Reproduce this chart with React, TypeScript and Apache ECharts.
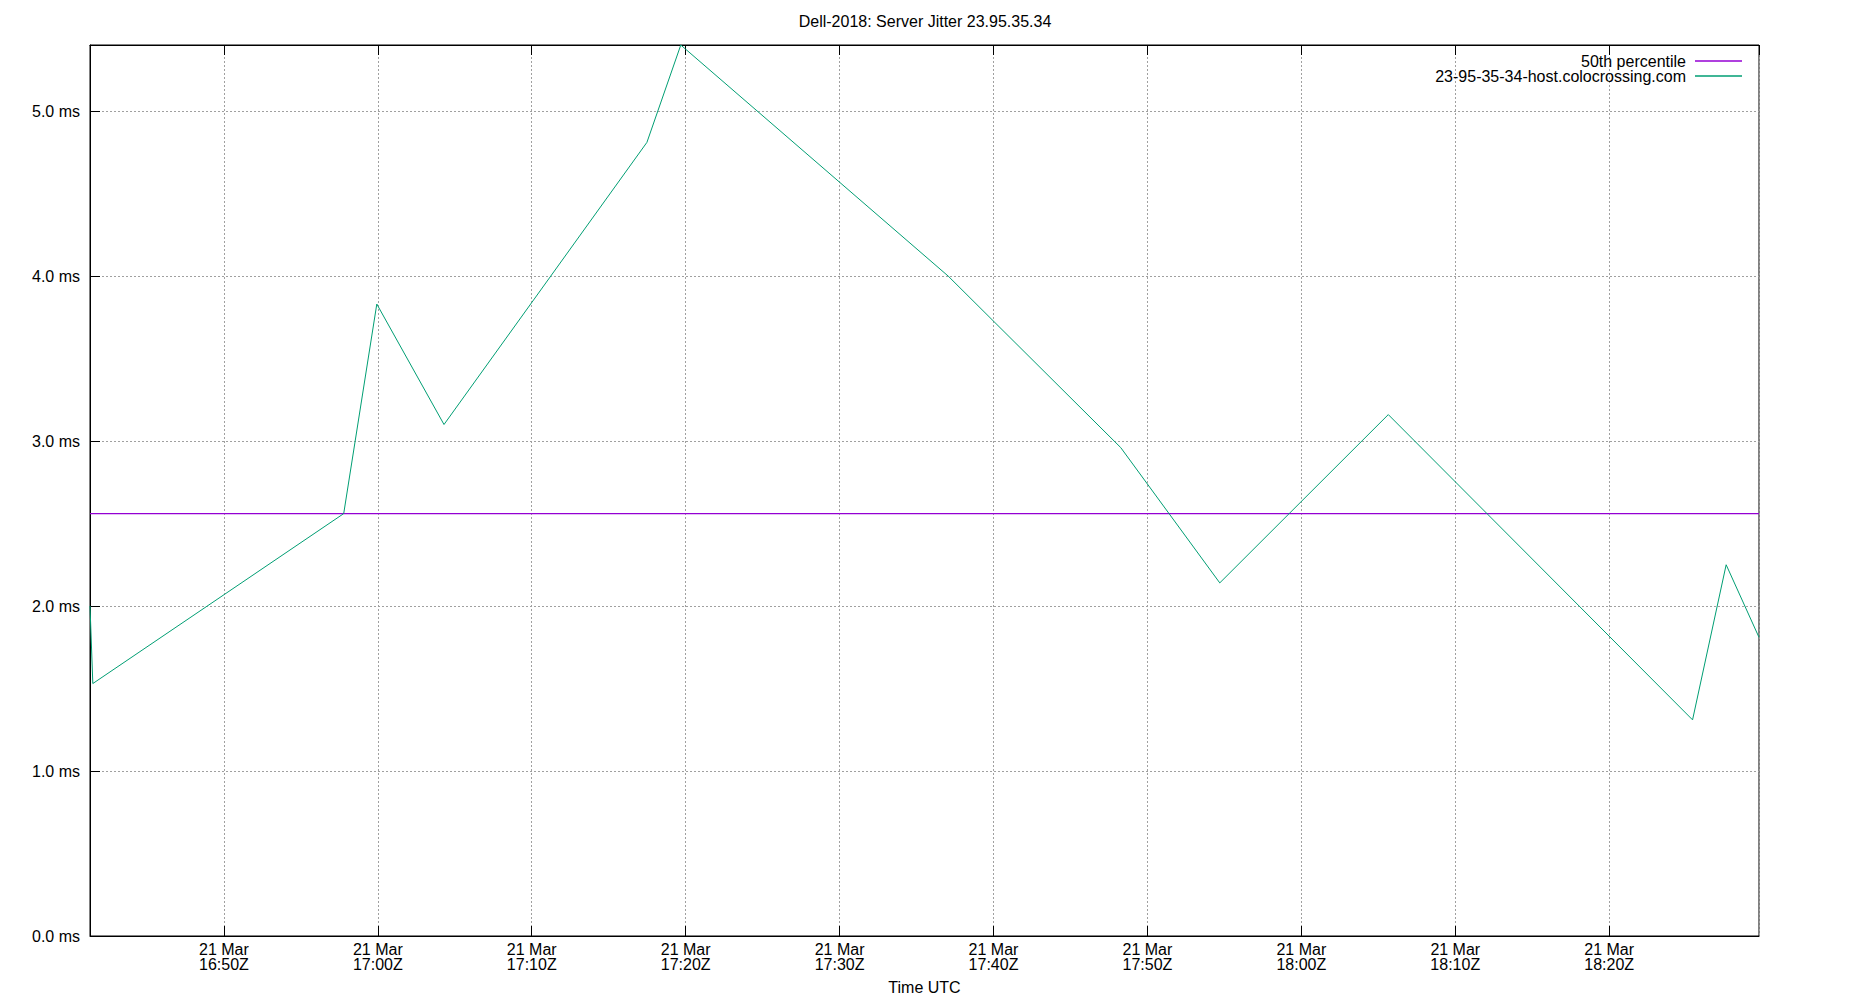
import { useEffect, useRef } from "react";
import * as echarts from "echarts";

const chartTitle = "Dell-2018: Server Jitter 23.95.35.34";
const hostName = "23-95-35-34-host.colocrossing.com";
const medianName = "50th percentile";
const xAxisName = "Time UTC";

// sample times (UTC, 21 Mar) and jitter in ms
const sampleTimes = [
  "16:41:18",
  "16:41:29",
  "16:57:47",
  "16:59:56",
  "17:04:18",
  "17:17:29",
  "17:19:41",
  "17:37:03",
  "17:48:16",
  "17:54:42",
  "18:05:39",
  "18:25:25",
  "18:27:36",
  "18:29:44"
];
const jitterMs = [2.0, 1.53, 2.56, 3.83, 3.1, 4.81, 5.4, 4.0, 2.96, 2.14, 3.16, 1.31, 2.25, 1.81];
const medianMs = 2.56;

const yTickStep = 1;
const yMax = 5.4;

const FONT = "Liberation Sans, Arial, sans-serif";
const MONTHS = ["Jan", "Feb", "Mar", "Apr", "May", "Jun", "Jul", "Aug", "Sep", "Oct", "Nov", "Dec"];

function toStamp(hms: string): number {
  const [h, m, s] = hms.split(":").map(Number);
  return Date.UTC(2018, 2, 21, h, m, s);
}

function pad(n: number): string {
  return n < 10 ? `0${n}` : String(n);
}

function formatTick(value: number): string {
  const d = new Date(value);
  return `${d.getUTCDate()} ${MONTHS[d.getUTCMonth()]}\n${pad(d.getUTCHours())}:${pad(d.getUTCMinutes())}Z`;
}

export default function App() {
  const ref = useRef<HTMLDivElement | null>(null);

  useEffect(() => {
    if (!ref.current) {
      return;
    }
    const chart = echarts.init(ref.current, null, { renderer: "svg" });

    const stamps = sampleTimes.map(toStamp);
    const tMin = stamps[0];
    const tMax = stamps[stamps.length - 1];

    // splitNumber 9 -> ~12 min approx, which the time scale rounds to 10 min ticks
    const timeAxisBase = {
      type: "time" as const,
      min: tMin,
      max: tMax,
      splitNumber: 9,
      axisLine: { show: true, lineStyle: { color: "#000", width: 1 } },
      axisTick: { show: true, inside: true, length: 10, lineStyle: { color: "#000", width: 1 } }
    };

    const legendBase = {
      orient: "vertical" as const,
      right: 103,
      align: "right" as const,
      icon: "rect",
      itemWidth: 47,
      itemHeight: 1.5,
      itemGap: 0,
      selectedMode: false,
      textStyle: { fontFamily: FONT, fontSize: 16, color: "#000", padding: [0, 4, 0, 0] }
    };

    chart.setOption({
      animation: false,
      backgroundColor: "#fff",
      title: {
        text: chartTitle,
        left: "center",
        top: 8,
        textStyle: { fontFamily: FONT, fontSize: 16, fontWeight: "normal", color: "#000" }
      },
      legend: [
        { ...legendBase, top: 48, data: [medianName] },
        { ...legendBase, top: 63, data: [hostName] }
      ],
      grid: {
        left: 90,
        top: 45,
        width: 1669,
        height: 892,
        show: true,
        borderColor: "#000",
        borderWidth: 1,
        backgroundColor: "transparent"
      },
      xAxis: [
        {
          ...timeAxisBase,
          position: "bottom",
          name: xAxisName,
          nameLocation: "middle",
          nameGap: 43,
          nameTextStyle: { fontFamily: FONT, fontSize: 16, color: "#000" },
          axisLabel: {
            fontFamily: FONT,
            fontSize: 16,
            color: "#000",
            lineHeight: 15,
            margin: 6,
            hideOverlap: false,
            formatter: (v: number) => formatTick(v)
          },
          splitLine: { show: true, lineStyle: { color: "#a0a0a0", width: 1, type: [2, 2] } }
        },
        {
          ...timeAxisBase,
          position: "top",
          axisLabel: { show: false },
          splitLine: { show: false }
        }
      ],
      yAxis: {
        type: "value",
        min: 0,
        max: yMax,
        interval: yTickStep,
        axisLine: { show: true, lineStyle: { color: "#000", width: 1 } },
        axisTick: { show: true, inside: true, length: 10, lineStyle: { color: "#000", width: 1 } },
        axisLabel: {
          fontFamily: FONT,
          fontSize: 16,
          color: "#000",
          margin: 10,
          showMaxLabel: false,
          formatter: (v: number) => `${v.toFixed(1)} ms`
        },
        splitLine: { show: true, lineStyle: { color: "#a0a0a0", width: 1, type: [2, 2] } }
      },
      series: [
        {
          name: medianName,
          type: "line",
          xAxisIndex: 0,
          data: [
            [tMin, medianMs],
            [tMax, medianMs]
          ],
          showSymbol: false,
          silent: true,
          lineStyle: { color: "#9400d3", width: 1.2 },
          itemStyle: { color: "#9400d3" }
        },
        {
          name: hostName,
          type: "line",
          xAxisIndex: 0,
          data: stamps.map((t, i) => [t, jitterMs[i]]),
          showSymbol: false,
          silent: true,
          lineStyle: { color: "#009e73", width: 1 },
          itemStyle: { color: "#009e73" }
        }
      ]
    });

    return () => {
      chart.dispose();
    };
  }, []);

  return (
    <div
      ref={ref}
      style={{ position: "fixed", left: 0, top: 0, width: 1850, height: 1000, background: "#fff" }}
    />
  );
}
